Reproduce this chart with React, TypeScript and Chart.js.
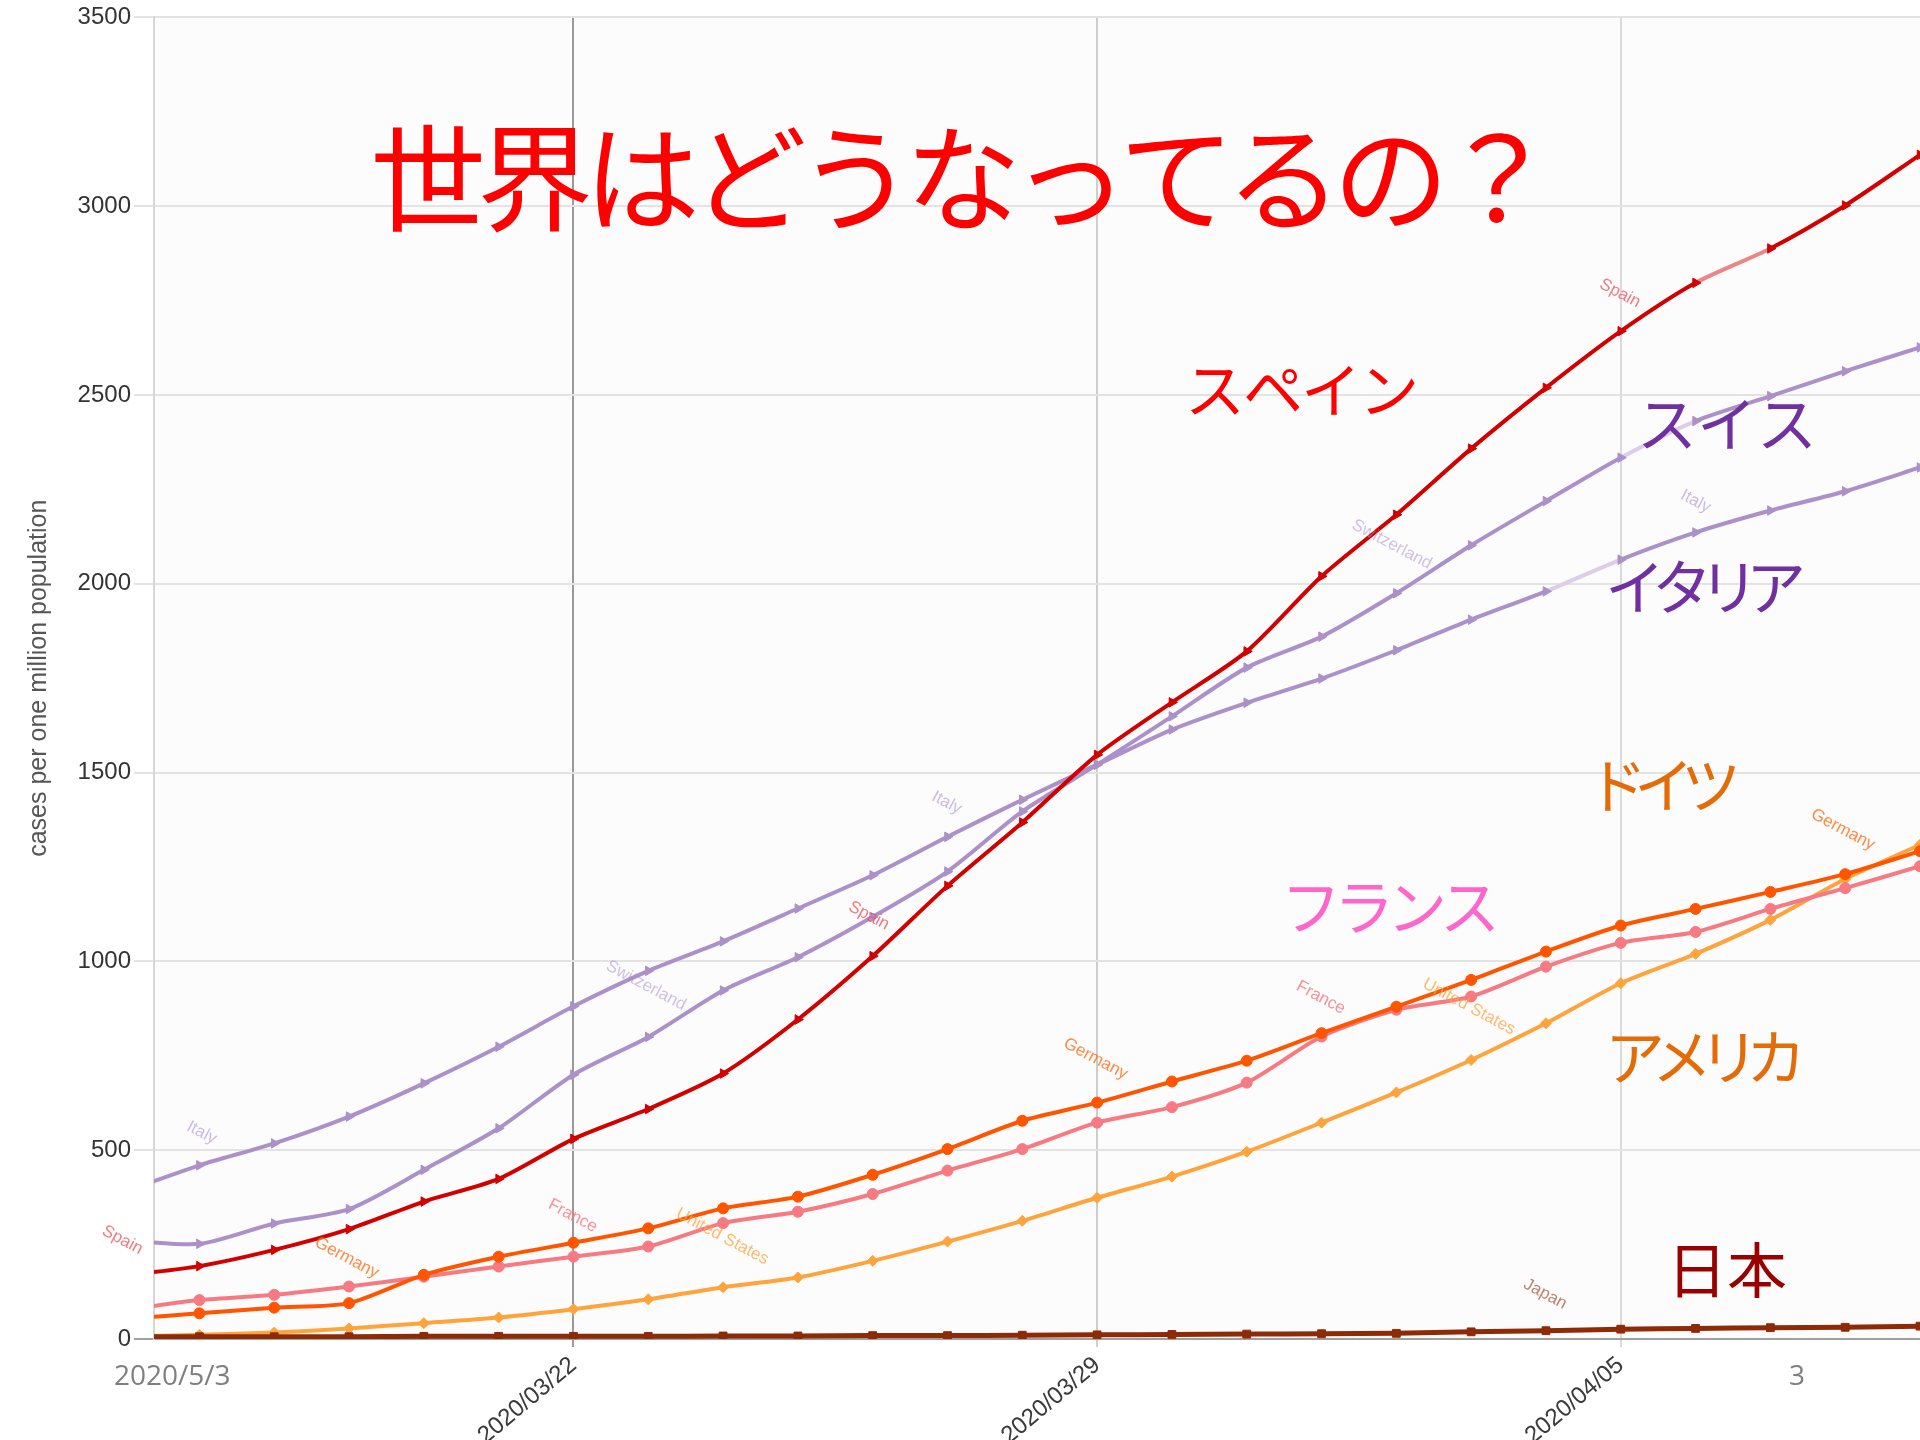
import React, { useEffect, useRef } from 'react';
import { Chart, registerables } from 'chart.js';

Chart.register(...registerables);

// Days counted from 2020/03/16 (index 0) to 2020/04/09 (index 24)
const categories = [
  '2020/03/16', '2020/03/17', '2020/03/18', '2020/03/19', '2020/03/20', '2020/03/21', '2020/03/22',
  '2020/03/23', '2020/03/24', '2020/03/25', '2020/03/26', '2020/03/27', '2020/03/28', '2020/03/29',
  '2020/03/30', '2020/03/31', '2020/04/01', '2020/04/02', '2020/04/03', '2020/04/04', '2020/04/05',
  '2020/04/06', '2020/04/07', '2020/04/08', '2020/04/09',
];
const tickDays = [6, 13, 20];

const spain = [168, 193, 236, 291, 364, 424, 530, 609, 703, 846, 1014, 1200, 1368, 1547, 1686, 1821, 2020, 2183, 2358, 2519, 2669, 2797, 2888, 3002, 3136];
const switzerland = [262, 252, 306, 344, 448, 558, 700, 800, 923, 1011, 1118, 1238, 1397, 1521, 1649, 1778, 1860, 1975, 2102, 2219, 2334, 2431, 2497, 2563, 2626];
const italy = [390, 460, 518, 589, 677, 774, 881, 975, 1053, 1140, 1228, 1330, 1428, 1521, 1614, 1685, 1749, 1824, 1905, 1980, 2064, 2136, 2194, 2245, 2308];
const germany = [53, 68, 83, 95, 170, 218, 255, 293, 346, 377, 435, 503, 578, 626, 682, 737, 810, 880, 951, 1026, 1095, 1139, 1184, 1231, 1292];
const france = [77, 103, 117, 139, 165, 192, 218, 245, 307, 337, 384, 446, 503, 573, 614, 679, 801, 872, 907, 986, 1049, 1078, 1139, 1194, 1252];
const unitedStates = [7, 11, 17, 28, 42, 57, 79, 105, 137, 163, 207, 258, 313, 374, 430, 496, 573, 653, 739, 836, 942, 1020, 1110, 1218, 1309];
const japan = [6, 6, 6, 6, 7, 7, 7, 7, 8, 8, 9, 9, 10, 11, 12, 13, 14, 15, 19, 22, 26, 28, 30, 31, 34];

// small in-chart series tags (country, day index, value)
const tagNames = ['Italy', 'Spain', 'Germany', 'France', 'United States', 'Switzerland', 'Spain', 'Italy', 'Germany', 'France', 'United States', 'Switzerland', 'Spain', 'Italy', 'Germany', 'Japan'];
const tagDays = [1.03, -0.03, 2.97, 5.99, 7.99, 6.97, 9.95, 10.99, 12.98, 15.99, 17.97, 16.94, 19.99, 21.0, 22.97, 18.99];
const tagValues = [546, 262, 215, 326, 271, 936, 1121, 1420, 742, 904, 880, 2104, 2769, 2218, 1349, 119];

const seriesNames = ['Spain', 'Japan', 'Germany', 'France', 'United States', 'Switzerland', 'Italy'];
const seriesValues = [spain, japan, germany, france, unitedStates, switzerland, italy];
const seriesColors = ['#d30000', '#8e2a06', '#ff5500', '#f77a82', '#ffa43c', '#ac90ca', '#ac90ca'];
const seriesFadeColors = ['#eb8686', null, null, null, null, '#ddcde9', '#ddcde9'];
const seriesFadeSegment = [21, -1, -1, -1, -1, 20, 19];
const seriesPoints = ['triangle', 'rect', 'circle', 'circle', 'rectRot', 'triangle', 'triangle'];
const tagColors: Record<string, string> = {
  Italy: 'rgba(172,144,202,0.6)',
  Switzerland: 'rgba(172,144,202,0.55)',
  Spain: 'rgba(232,80,90,0.75)',
  Germany: 'rgba(255,110,20,0.8)',
  France: 'rgba(247,110,120,0.75)',
  'United States': 'rgba(255,164,60,0.75)',
  Japan: 'rgba(160,80,50,0.7)',
};

// overlay annotations (Japanese captions)
const captionTexts = ['世界はどうなってるの？', 'スペイン', 'スイス', 'イタリア', 'ドイツ', 'フランス', 'アメリカ', '日本'];
const captionColors = ['#ff0000', '#ff0000', '#7030a0', '#7030a0', '#e36c09', '#ff66cc', '#e36c09', '#990000'];

const AXIS_FONT = '"Liberation Sans", Arial, sans-serif';
const JP_FONT = '"Noto Sans CJK JP", sans-serif';

export default function App() {
  const ref = useRef<HTMLCanvasElement>(null);

  useEffect(() => {
    document.body.style.margin = '0';
    const canvas = ref.current!;

    const bgPlugin = {
      id: 'bg',
      beforeDraw(chart: any) {
        const { ctx, chartArea } = chart;
        ctx.save();
        ctx.fillStyle = '#ffffff';
        ctx.fillRect(0, 0, chart.width, chart.height);
        ctx.fillStyle = '#fcfcfc';
        ctx.fillRect(chartArea.left, chartArea.top, chartArea.right - chartArea.left, chartArea.bottom - chartArea.top);
        ctx.restore();
      },
    };

    const tagPlugin = {
      id: 'tags',
      afterDatasetsDraw(chart: any) {
        const { ctx } = chart;
        const xs = chart.scales.x;
        const ys = chart.scales.y;
        ctx.save();
        ctx.font = `17px ${AXIS_FONT}`;
        ctx.textAlign = 'center';
        ctx.textBaseline = 'middle';
        tagNames.forEach((name, i) => {
          const x = xs.getPixelForValue(tagDays[i]);
          const y = ys.getPixelForValue(tagValues[i]);
          ctx.save();
          ctx.translate(x, y);
          ctx.rotate((28 * Math.PI) / 180);
          ctx.fillStyle = tagColors[name];
          ctx.fillText(name, 0, 0);
          ctx.restore();
        });
        ctx.restore();
      },
    };

    const overlayPlugin = {
      id: 'overlay',
      afterDraw(chart: any) {
        const { ctx } = chart;
        ctx.save();
        ctx.textBaseline = 'middle';
        ctx.textAlign = 'left';
        // title
        ctx.fillStyle = captionColors[0];
        ctx.font = `116px ${JP_FONT}`;
        (ctx as any).letterSpacing = '-9px';
        ctx.fillText(captionTexts[0], 370, 178);
        const pos = [
          [0, 0],
          [1185, 390],
          [1637, 424],
          [1605, 587],
          [1587, 785],
          [1281, 907],
          [1605, 1057],
          [1667, 1270],
        ];
        const spacing = [0, -2, 0, -13, -13, -7, -13, 0];
        ctx.font = `60px ${JP_FONT}`;
        for (let i = 1; i < captionTexts.length; i++) {
          (ctx as any).letterSpacing = `${spacing[i]}px`;
          ctx.fillStyle = captionColors[i];
          ctx.fillText(captionTexts[i], pos[i][0], pos[i][1]);
        }
        (ctx as any).letterSpacing = '0px';
        // extra axis-like labels pasted on the picture
        ctx.textBaseline = 'alphabetic';
        ctx.fillStyle = '#7f7f7f';
        ctx.font = '28px "Open Sans", sans-serif';
        ctx.fillText('2020/5/3', 114, 1385);
        ctx.fillText('3', 1789, 1385);
        ctx.restore();
      },
    };

    const datasets = seriesNames.map((name, i) => ({
      label: name,
      data: seriesValues[i].map((v, d) => ({ x: d, y: v })),
      borderColor: seriesColors[i],
      backgroundColor: seriesColors[i],
      pointBackgroundColor: seriesColors[i],
      pointBorderColor: seriesColors[i],
      borderWidth: name === 'Japan' ? 5 : 4,
      pointStyle: seriesPoints[i] as any,
      pointRadius: 5.5,
      pointRotation: seriesPoints[i] === 'triangle' ? 90 : 0,
      pointBorderWidth: 1,
      tension: 0.25,
      fill: false,
      segment: {
        borderColor: (c: any) =>
          c.p0DataIndex === seriesFadeSegment[i] && seriesFadeColors[i] ? seriesFadeColors[i] : undefined,
      },
    }));

    const chart = new Chart(canvas, {
      type: 'line',
      data: { datasets },
      options: {
        responsive: false,
        animation: false,
        layout: { autoPadding: false, padding: { top: 17, left: 0, right: 0, bottom: 0 } },
        plugins: {
          legend: { display: false },
          tooltip: { enabled: false },
        },
        scales: {
          x: {
            type: 'linear',
            min: 0.393,
            max: 24,
            bounds: 'data',
            afterBuildTicks: (s: any) => {
              s.ticks = tickDays.map((v) => ({ value: v }));
            },
            afterFit: (s: any) => {
              s.height = 101;
              s.paddingLeft = 0;
              s.paddingRight = 0;
            },
            ticks: {
              autoSkip: false,
              minRotation: 40,
              maxRotation: 40,
              padding: 4,
              color: '#3a3a3a',
              font: { family: AXIS_FONT, size: 24 },
              callback: (v: any) => categories[v] ?? '',
            },
            grid: {
              color: (c: any) => {
                const v = c.tick ? c.tick.value : null;
                if (v === 6) return '#9a9a9a';
                if (v === 13) return '#cdcdcd';
                return '#dadada';
              },
              lineWidth: 2,
              tickLength: 8,
            },
            border: { display: false },
          },
          y: {
            min: 0,
            max: 3500,
            afterFit: (s: any) => {
              s.width = 154;
            },
            ticks: {
              stepSize: 500,
              padding: 3,
              color: '#333',
              font: { family: AXIS_FONT, size: 24 },
              callback: (v: any) => String(v),
            },
            grid: {
              color: (c: any) => (c.tick && c.tick.value === 0 ? '#a0a0a0' : '#e3e3e3'),
              lineWidth: 2,
              tickLength: 20,
            },
            border: { display: true, color: '#d6d6d6', width: 2 },
            title: {
              display: true,
              text: 'cases per one million population',
              color: '#555',
              font: { family: AXIS_FONT, size: 25 },
              padding: { top: 24, bottom: 0 },
            },
          },
        },
      },
      plugins: [bgPlugin, tagPlugin, overlayPlugin],
    });
    return () => chart.destroy();
  }, []);

  return (
    <div style={{ width: 1920, height: 1440 }}>
      <canvas ref={ref} width={1920} height={1440} style={{ display: 'block' }} />
    </div>
  );
}
